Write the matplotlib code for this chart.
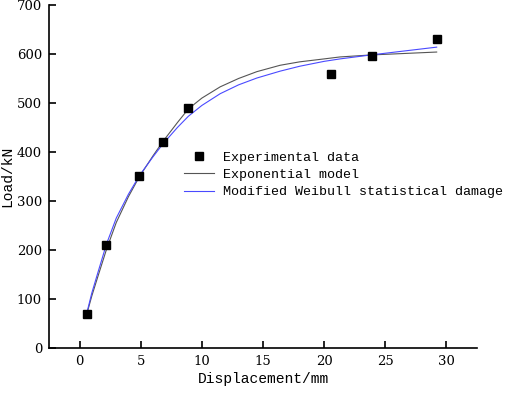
import matplotlib
matplotlib.use("Agg")
import matplotlib.pyplot as plt

# experimental points
disp_exp = [0.6, 2.2, 4.9, 6.8, 8.9, 20.6, 23.9, 29.2]
load_exp = [70, 210, 350, 420, 490, 560, 595, 630]

# exponential model curve
disp_expo = [0.6, 1.0, 1.5, 2.2, 3.0, 4.0, 4.9, 6.0, 6.8, 8.0, 8.9, 10.0, 11.5,
             13.0, 14.5, 16.4, 18.0, 20.0, 21.3, 23.8, 26.5, 29.2]
load_expo = [70, 106, 146, 201, 256, 309, 350, 392, 421, 460, 488, 510, 533,
             550, 564, 577, 584, 590, 594, 598, 601, 604]

# modified Weibull statistical damage curve
disp_weib = [0.6, 1.0, 1.5, 2.2, 3.0, 4.0, 4.9, 6.0, 6.8, 8.0, 8.9, 10.0, 11.5,
             13.0, 14.5, 16.4, 18.0, 20.0, 21.3, 23.8, 26.5, 29.2]
load_weib = [72, 112, 154, 212, 265, 314, 352, 390, 416, 450, 473, 495, 519,
             537, 551, 565, 575, 585, 590, 598, 606, 614]

mono = "Liberation Mono"
serif = "DejaVu Serif"

fig = plt.figure(figsize=(5.05, 3.94), dpi=100)
ax = fig.add_axes([0.097, 0.1168, 0.8476, 0.8705])

ax.plot(disp_exp, load_exp, "s", color="black", markersize=6,
        label="Experimental data", zorder=3)
ax.plot(disp_expo, load_expo, "-", color="#555555", lw=0.8,
        label="Exponential model")
ax.plot(disp_weib, load_weib, "-", color="#4a4aff", lw=0.8,
        label="Modified Weibull statistical damage")

ax.set_xlim(-2.5, 32.5)
ax.set_ylim(0, 700)
ax.set_xticks([0, 5, 10, 15, 20, 25, 30])
ax.set_yticks(range(0, 701, 100))

for side in ["top", "right"]:
    ax.spines[side].set_visible(False)
for side in ["left", "bottom"]:
    ax.spines[side].set_linewidth(1.2)

ax.tick_params(direction="in", length=5, width=1.2, pad=5)
for lab in ax.get_xticklabels() + ax.get_yticklabels():
    lab.set_fontfamily(serif)
    lab.set_fontsize(9.5)

ax.set_xlabel("Displacement/mm", fontfamily=mono, fontsize=10.5, labelpad=3)
ax.set_ylabel("Load/kN", fontfamily=mono, fontsize=10.5, labelpad=2)

ax.legend(loc="upper left", bbox_to_anchor=(0.304, 0.588), frameon=False,
          prop={"family": mono, "size": 9.6}, handlelength=2.2,
          handletextpad=0.7, labelspacing=0.36, borderaxespad=0)

fig.savefig("out.png", dpi=100)
